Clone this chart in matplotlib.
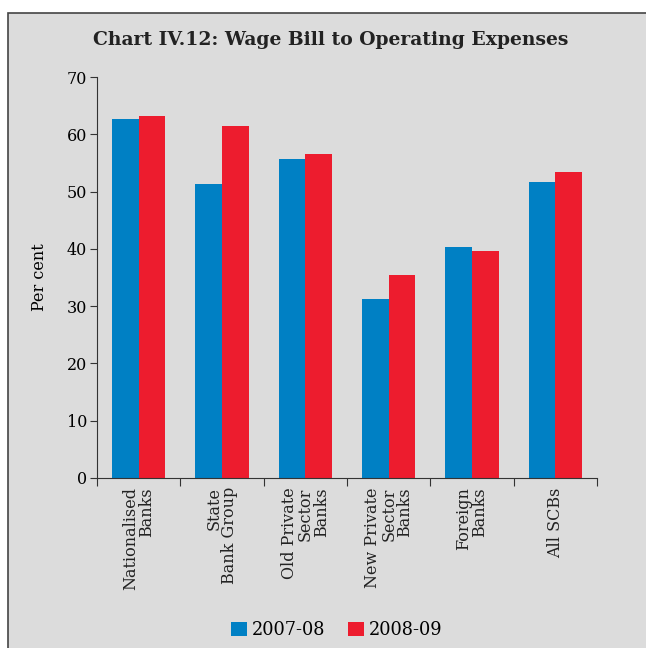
import numpy as np
import matplotlib
matplotlib.use("Agg")
import matplotlib.pyplot as plt
from matplotlib.patches import Rectangle

categories = ["Nationalised\nBanks", "State\nBank Group", "Old Private\nSector\nBanks",
              "New Private\nSector\nBanks", "Foreign\nBanks", "All SCBs"]
series_names = ["2007-08", "2008-09"]
wage_0708 = [62.6, 51.3, 55.7, 31.2, 40.4, 51.7]
wage_0809 = [63.2, 61.4, 56.5, 35.4, 39.7, 53.4]
yticks = [0, 10, 20, 30, 40, 50, 60, 70]

bg = "#dcdcdc"
blue = "#0080c4"
red = "#ed1c2e"

plt.rcParams["font.family"] = "DejaVu Serif"

fig = plt.figure(figsize=(6.46, 6.48), dpi=100, facecolor="white")
# grey panel with border, behind the axes
fig.patches.append(Rectangle((8 / 646, -0.01), 1.0, 1 - 13 / 648 + 0.01,
                             transform=fig.transFigure, facecolor=bg,
                             edgecolor="#444444", linewidth=1.2, zorder=-10))

ax = fig.add_axes([97 / 646, 1 - 478 / 648, 500 / 646, 401 / 648])
ax.patch.set_alpha(0)

x = np.arange(len(categories))
w = 0.32
ax.bar(x - w / 2, wage_0708, w, color=blue, label=series_names[0])
ax.bar(x + w / 2, wage_0809, w, color=red, label=series_names[1])

ax.set_xlim(-0.5, len(categories) - 0.5)
ax.set_ylim(0, 70)
ax.set_yticks(yticks)
ax.tick_params(axis="y", labelsize=11.5, length=5, width=0.8, color="#333333", pad=2)
ax.set_xticks(np.arange(len(categories) + 1) - 0.5)
ax.set_xticklabels([])
ax.tick_params(axis="x", length=6, width=0.8, color="#333333")
for i, c in enumerate(categories):
    ax.text(i, -1.6, c, rotation=90, ha="center", va="top", multialignment="right",
            fontsize=11.5, color="#222222", linespacing=0.92)

for s in ["top", "right"]:
    ax.spines[s].set_visible(False)
for s in ["left", "bottom"]:
    ax.spines[s].set_color("#333333")
    ax.spines[s].set_linewidth(0.8)

ax.set_ylabel("Per cent", fontsize=11.5)
ax.yaxis.set_label_coords(-0.098, 0.5)

fig.text(331 / 646, 1 - 40 / 648, "Chart IV.12: Wage Bill to Operating Expenses",
         ha="center", va="center", fontsize=13.5, fontweight="bold", color="#222222")

fig.legend(loc="center", bbox_to_anchor=(337 / 646, 1 - 630 / 648), ncol=2,
           frameon=False, fontsize=12.8, handlelength=0.85, handleheight=0.85,
           handletextpad=0.3, columnspacing=1.3)

fig.savefig("out.png", dpi=100, facecolor="white")
